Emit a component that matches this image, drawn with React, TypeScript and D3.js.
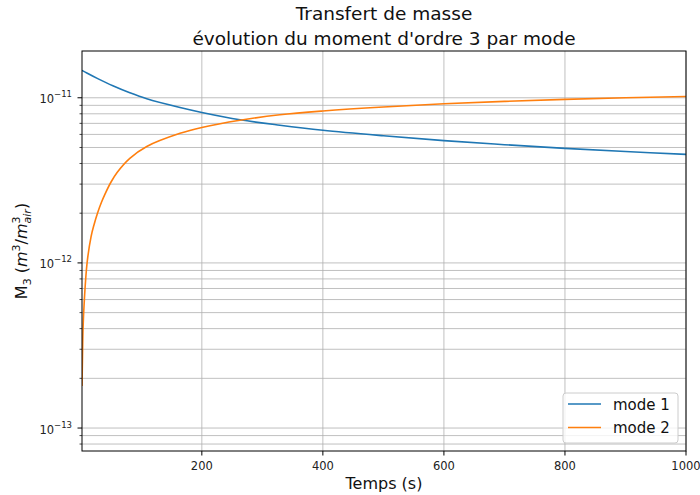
import { useEffect, useRef } from "react"
import * as d3 from "d3"

// values
const mode1Time = [2, 10, 28, 53, 81, 109, 164, 200, 263, 329, 400, 500, 600, 700, 800, 900, 1000]
const mode1Values = [
  1.466e-11, 1.412e-11, 1.306e-11, 1.182e-11, 1.072e-11, 9.86e-12, 8.73e-12, 8.15e-12, 7.36e-12, 6.82e-12,
  6.36e-12, 5.89e-12, 5.5e-12, 5.2e-12, 4.94e-12, 4.73e-12, 4.54e-12,
]
const mode2Time = [
  2, 2.8, 3.8, 6, 10.4, 17, 22, 28, 34, 40, 50, 60, 81, 109, 164, 200, 263, 329, 400, 500, 600, 700, 800, 900, 1000,
]
const mode2Values = [
  1.8e-13, 2.69e-13, 4.09e-13, 6.08e-13, 1.0e-12, 1.444e-12, 1.71e-12, 2.02e-12, 2.32e-12, 2.61e-12, 3.09e-12,
  3.527e-12, 4.296e-12, 5.07e-12, 6.09e-12, 6.61e-12, 7.31e-12, 7.89e-12, 8.32e-12, 8.8e-12, 9.2e-12, 9.51e-12,
  9.78e-12, 1.0e-11, 1.018e-11,
]
const seriesNames = ["mode 1", "mode 2"]
const seriesColors = ["#1f77b4", "#ff7f0e"]
const xTicks = [200, 400, 600, 800, 1000]
const yMajorExponents = [-13, -12, -11]
const titleLines = ["Transfert de masse", "évolution du moment d'ordre 3 par mode"]

export default function App() {
  const svgRef = useRef<SVGSVGElement>(null)

  useEffect(() => {
    if (!svgRef.current) return
    d3.select(svgRef.current).selectAll("*").remove()

    const width = 700
    const height = 495
    const margin = { top: 51, right: 14, bottom: 44, left: 82 }
    const font = "DejaVu Sans, sans-serif"

    const x = d3
      .scaleLinear()
      .domain([2, 1000])
      .range([margin.left, width - margin.right])
    const y = d3
      .scaleLog()
      .domain([7.26e-14, 1.92e-11])
      .range([height - margin.bottom, margin.top])

    const svg = d3
      .select(svgRef.current)
      .attr("width", width)
      .attr("height", height)
      .attr("viewBox", [0, 0, width, height])
      .style("font-family", font)

    svg.append("rect").attr("width", width).attr("height", height).attr("fill", "white")

    const [y0, y1] = y.domain()
    const minor: number[] = []
    for (let e = -14; e <= -11; e++) {
      for (let m = 2; m <= 9; m++) {
        const v = m * Math.pow(10, e)
        if (v >= y0 && v <= y1) minor.push(v)
      }
    }
    const major = yMajorExponents.map((e) => Math.pow(10, e))

    // grid (major + minor)
    const grid = svg.append("g").attr("stroke", "#b0b0b0").attr("stroke-width", 0.8)
    grid
      .selectAll("line.hy")
      .data([...major, ...minor])
      .enter()
      .append("line")
      .attr("x1", margin.left)
      .attr("x2", width - margin.right)
      .attr("y1", (d) => y(d))
      .attr("y2", (d) => y(d))
    grid
      .selectAll("line.vx")
      .data(xTicks)
      .enter()
      .append("line")
      .attr("x1", (d) => x(d))
      .attr("x2", (d) => x(d))
      .attr("y1", margin.top)
      .attr("y2", height - margin.bottom)

    // lines
    const series = [
      { name: seriesNames[0], t: mode1Time, v: mode1Values, color: seriesColors[0] },
      { name: seriesNames[1], t: mode2Time, v: mode2Values, color: seriesColors[1] },
    ]
    const line = d3
      .line<[number, number]>()
      .x((d) => x(d[0]))
      .y((d) => y(d[1]))
      .curve(d3.curveCatmullRom.alpha(0.5))

    svg
      .append("clipPath")
      .attr("id", "plot-clip")
      .append("rect")
      .attr("x", margin.left)
      .attr("y", margin.top)
      .attr("width", width - margin.left - margin.right)
      .attr("height", height - margin.top - margin.bottom)

    svg
      .append("g")
      .attr("clip-path", "url(#plot-clip)")
      .selectAll("path")
      .data(series)
      .enter()
      .append("path")
      .attr("d", (s) => line(s.t.map((t, i) => [t, s.v[i]] as [number, number])))
      .attr("fill", "none")
      .attr("stroke", (s) => s.color)
      .attr("stroke-width", 1.6)

    // frame
    svg
      .append("rect")
      .attr("x", margin.left)
      .attr("y", margin.top)
      .attr("width", width - margin.left - margin.right)
      .attr("height", height - margin.top - margin.bottom)
      .attr("fill", "none")
      .attr("stroke", "black")
      .attr("stroke-width", 1)

    // x ticks
    const bottom = height - margin.bottom
    const xt = svg.append("g")
    xt.selectAll("line")
      .data(xTicks)
      .enter()
      .append("line")
      .attr("x1", (d) => x(d))
      .attr("x2", (d) => x(d))
      .attr("y1", bottom)
      .attr("y2", bottom + 4.5)
      .attr("stroke", "black")
    xt.selectAll("text")
      .data(xTicks)
      .enter()
      .append("text")
      .attr("x", (d) => x(d))
      .attr("y", bottom + 18.5)
      .attr("text-anchor", "middle")
      .attr("font-size", 11.5)
      .attr("fill", "#222")
      .text((d) => d)

    // y ticks
    const yt = svg.append("g")
    yt.selectAll("line.maj")
      .data(major)
      .enter()
      .append("line")
      .attr("x1", margin.left - 4.5)
      .attr("x2", margin.left)
      .attr("y1", (d) => y(d))
      .attr("y2", (d) => y(d))
      .attr("stroke", "black")
    yt.selectAll("line.min")
      .data(minor)
      .enter()
      .append("line")
      .attr("x1", margin.left - 2.5)
      .attr("x2", margin.left)
      .attr("y1", (d) => y(d))
      .attr("y2", (d) => y(d))
      .attr("stroke", "black")
      .attr("stroke-width", 0.7)
    const yLabels = yt
      .selectAll("text")
      .data(yMajorExponents)
      .enter()
      .append("text")
      .attr("x", margin.left - 10)
      .attr("y", (e) => y(Math.pow(10, e)) + 5.5)
      .attr("text-anchor", "end")
      .attr("font-size", 11.5)
      .attr("fill", "#222")
    yLabels.append("tspan").text("10")
    yLabels
      .append("tspan")
      .attr("font-size", 8.5)
      .attr("dy", -6)
      .text((e) => "\u2212" + Math.abs(e))

    // title
    svg
      .append("g")
      .selectAll("text")
      .data(titleLines)
      .enter()
      .append("text")
      .attr("x", (margin.left + width - margin.right) / 2)
      .attr("y", (_, i) => 20 + i * 24.5)
      .attr("text-anchor", "middle")
      .attr("font-size", 18.5)
      .attr("fill", "#111")
      .text((d) => d)

    // x label
    svg
      .append("text")
      .attr("x", (margin.left + width - margin.right) / 2)
      .attr("y", 489)
      .attr("text-anchor", "middle")
      .attr("font-size", 16)
      .attr("fill", "#111")
      .text("Temps (s)")

    // y label
    const yl = svg
      .append("text")
      .attr("transform", `translate(27,${(margin.top + height - margin.bottom) / 2}) rotate(-90)`)
      .attr("text-anchor", "middle")
      .attr("font-size", 16)
      .attr("fill", "#111")
    yl.append("tspan").text("M")
    yl.append("tspan").attr("font-size", 11).attr("dy", 4).text("3")
    yl.append("tspan").attr("dy", -4).text("\u00a0(")
    yl.append("tspan").attr("font-style", "italic").text("m")
    yl.append("tspan").attr("font-size", 11).attr("dy", -7).text("3")
    yl.append("tspan").attr("dy", 7).text("/")
    yl.append("tspan").attr("font-style", "italic").text("m")
    yl.append("tspan").attr("font-size", 11).attr("dy", -7).text("3")
    yl.append("tspan").attr("font-size", 11).attr("font-style", "italic").attr("dx", -7).attr("dy", 11).text("air")
    yl.append("tspan").attr("dy", -4).text(")")

    // legend
    const lg = svg.append("g")
    lg.append("rect")
      .attr("x", 563)
      .attr("y", 393)
      .attr("width", 115)
      .attr("height", 50)
      .attr("rx", 3)
      .attr("fill", "white")
      .attr("fill-opacity", 0.8)
      .attr("stroke", "#cccccc")
    const items = lg
      .selectAll("g")
      .data(series)
      .enter()
      .append("g")
      .attr("transform", (_, i) => `translate(0,${404 + i * 23.5})`)
    items
      .append("line")
      .attr("x1", 568)
      .attr("x2", 601)
      .attr("stroke", (s) => s.color)
      .attr("stroke-width", 1.6)
    items
      .append("text")
      .attr("x", 613)
      .attr("y", 5.5)
      .attr("font-size", 15)
      .attr("fill", "#111")
      .text((s) => s.name)
  }, [])

  return (
    <div style={{ position: "absolute", left: 0, top: 0 }}>
      <svg ref={svgRef} style={{ display: "block" }} />
    </div>
  )
}
